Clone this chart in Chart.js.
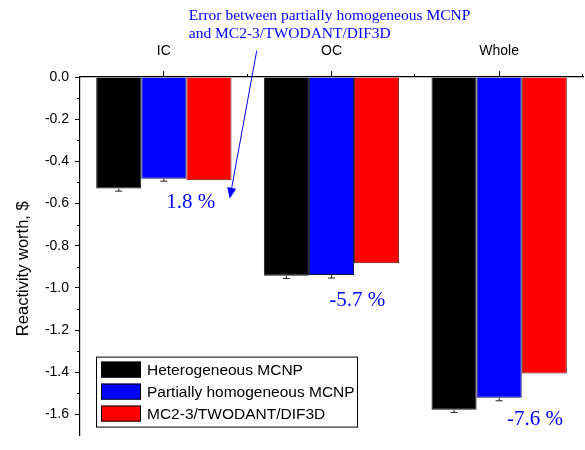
<!DOCTYPE html>
<html>
<head>
<meta charset="utf-8">
<script src="https://cdn.jsdelivr.net/npm/chart.js@4.4.1/dist/chart.umd.min.js"></script>
<style>
  html, body { margin: 0; padding: 0; background: #fff; }
  #wrap { width: 585px; height: 450px; }
</style>
</head>
<body>
<div id="wrap"><canvas id="chart" width="585" height="450"></canvas></div>
<script>
// chart values
const CATEGORIES = ['IC', 'OC', 'Whole'];
const SERIES_NAMES = ['Heterogeneous MCNP', 'Partially homogeneous MCNP', 'MC2-3/TWODANT/DIF3D'];
const HETEROGENEOUS = [-0.529, -0.942, -1.578];
const PARTIAL_HOMOGENEOUS = [-0.482, -0.939, -1.521];
const DETERMINISTIC = [-0.489, -0.883, -1.406];
const HETEROGENEOUS_ERR = [0.012, 0.013, 0.012];
const PARTIAL_HOMOGENEOUS_ERR = [0.012, 0.014, 0.014];
const Y_TICKS = [0.0, -0.2, -0.4, -0.6, -0.8, -1.0, -1.2, -1.4, -1.6];
const Y_MINOR_TICKS = [-0.1, -0.3, -0.5, -0.7, -0.9, -1.1, -1.3, -1.5];
const Y_TITLE = 'Reactivity worth, $';
const Y_TITLE_CENTER = -0.909;

// error annotations, placed in (category, value) units
const ERROR_TEXTS = ['1.8 %', '-5.7 %', '-7.6 %'];
const ERROR_TEXT_X = [0.16, 1.154, 2.213];
const ERROR_TEXT_Y = [-0.621, -1.086, -1.649];
const NOTE_LINES = ['Error between partially homogeneous MCNP', 'and MC2-3/TWODANT/DIF3D'];
const NOTE_X = 0.149;
const NOTE_Y = [0.272, 0.183];
const ARROW_FROM = [0.554, 0.125];
const ARROW_TO = [0.393, -0.577];

const SANS = 'Liberation Sans';
const SERIF = 'Liberation Serif';
const NOTE_BLUE = '#0000ff';

function drawErrorBars(chart) {
  const ctx = chart.ctx;
  const yScale = chart.scales.y;
  chart.data.datasets.forEach((ds, d) => {
    if(!ds.errors) return;
    const meta = chart.getDatasetMeta(d);
    meta.data.forEach((bar, i) => {
      const y0 = yScale.getPixelForValue(ds.data[i]);
      const y1 = yScale.getPixelForValue(ds.data[i] - ds.errors[i]);
      ctx.beginPath();
      ctx.moveTo(bar.x, y0);
      ctx.lineTo(bar.x, y1);
      ctx.moveTo(bar.x - 3.5, y1);
      ctx.lineTo(bar.x + 3.5, y1);
      ctx.stroke();
    });
  });
}

function drawMinorTicks(chart) {
  const ctx = chart.ctx;
  const xScale = chart.scales.x;
  const yScale = chart.scales.y;
  const area = chart.chartArea;
  ctx.beginPath();
  for(let v of Y_MINOR_TICKS) {
    const y = Math.round(yScale.getPixelForValue(v)) + 0.5;
    ctx.moveTo(area.left - 3, y);
    ctx.lineTo(area.left, y);
  }
  // boundaries between the groups on the top axis
  for(let i=0; i<CATEGORIES.length; ++i) {
    const x = Math.round(xScale.getPixelForValue(i + 0.5)) - 0.5;
    ctx.moveTo(x, area.top);
    ctx.lineTo(x, area.top - 3);
  }
  ctx.stroke();
}

function drawYTitle(chart) {
  const ctx = chart.ctx;
  const y = chart.scales.y.getPixelForValue(Y_TITLE_CENTER);
  ctx.save();
  ctx.translate(23, y);
  ctx.rotate(-Math.PI / 2);
  ctx.font = `16.5px "${SANS}"`;
  ctx.fillStyle = '#000';
  ctx.textAlign = 'center';
  ctx.textBaseline = 'middle';
  ctx.fillText(Y_TITLE, 0, 0);
  ctx.restore();
}

function drawLegendBox(chart) {
  const ctx = chart.ctx;
  const area = chart.chartArea;
  const left = area.left + 16;
  const top = area.bottom - 79;
  ctx.strokeRect(left + 0.5, top + 0.5, 261, 70);
  ctx.font = `15.5px "${SANS}"`;
  ctx.textBaseline = 'middle';
  ctx.textAlign = 'left';
  chart.data.datasets.forEach((ds, i) => {
    const rowY = top + 5 + i * 22;
    ctx.fillStyle = ds.backgroundColor;
    ctx.fillRect(left + 5, rowY, 40, 16);
    ctx.strokeRect(left + 5.5, rowY + 0.5, 39, 15);
    ctx.fillStyle = '#000';
    ctx.fillText(ds.label, left + 51, rowY + 9);
  });
}

function drawNotes(chart) {
  const ctx = chart.ctx;
  const xScale = chart.scales.x;
  const yScale = chart.scales.y;
  ctx.fillStyle = NOTE_BLUE;
  ctx.strokeStyle = NOTE_BLUE;
  ctx.textBaseline = 'alphabetic';

  ctx.font = `21px "${SERIF}"`;
  ctx.textAlign = 'center';
  for(let i=0; i<ERROR_TEXTS.length; ++i)
    ctx.fillText(ERROR_TEXTS[i], xScale.getPixelForValue(ERROR_TEXT_X[i]), yScale.getPixelForValue(ERROR_TEXT_Y[i]));

  ctx.font = `15.5px "${SERIF}"`;
  ctx.textAlign = 'left';
  for(let i=0; i<NOTE_LINES.length; ++i)
    ctx.fillText(NOTE_LINES[i], xScale.getPixelForValue(NOTE_X), yScale.getPixelForValue(NOTE_Y[i]));

  // arrow
  const x0 = xScale.getPixelForValue(ARROW_FROM[0]);
  const y0 = yScale.getPixelForValue(ARROW_FROM[1]);
  const x1 = xScale.getPixelForValue(ARROW_TO[0]);
  const y1 = yScale.getPixelForValue(ARROW_TO[1]);
  const ang = Math.atan2(y1 - y0, x1 - x0);
  const headLen = 11, headHalf = 4.5;
  const bx = x1 - headLen * Math.cos(ang), by = y1 - headLen * Math.sin(ang);
  ctx.lineWidth = 1;
  ctx.beginPath();
  ctx.moveTo(x0, y0);
  ctx.lineTo(bx, by);
  ctx.stroke();
  ctx.beginPath();
  ctx.moveTo(x1, y1);
  ctx.lineTo(bx + headHalf * Math.sin(ang), by - headHalf * Math.cos(ang));
  ctx.lineTo(bx - headHalf * Math.sin(ang), by + headHalf * Math.cos(ang));
  ctx.closePath();
  ctx.fill();
}

const extrasPlugin = {
  id: 'extras',
  afterDraw(chart) {
    const ctx = chart.ctx;
    ctx.save();
    ctx.strokeStyle = '#222';
    ctx.lineWidth = 1;
    drawErrorBars(chart);
    ctx.strokeStyle = '#000';
    drawMinorTicks(chart);
    drawYTitle(chart);
    drawLegendBox(chart);
    drawNotes(chart);
    ctx.restore();
  }
};

const canvas = document.getElementById('chart');
const chart = new Chart(canvas, {
  type: 'bar',
  data: {
    labels: CATEGORIES,
    datasets: [
      { label: SERIES_NAMES[0], data: HETEROGENEOUS, errors: HETEROGENEOUS_ERR,
        backgroundColor: '#000000', borderColor: '#1a1a1a' },
      { label: SERIES_NAMES[1], data: PARTIAL_HOMOGENEOUS, errors: PARTIAL_HOMOGENEOUS_ERR,
        backgroundColor: '#0000ff', borderColor: '#10104a' },
      { label: SERIES_NAMES[2], data: DETERMINISTIC, errors: null,
        backgroundColor: '#ff0000', borderColor: '#5a1010' }
    ]
  },
  options: {
    responsive: false,
    animation: false,
    layout: { padding: { left: 0, right: 2, top: 0, bottom: 2 } },
    datasets: {
      bar: { categoryPercentage: 0.807, barPercentage: 1.0, borderWidth: 1 }
    },
    plugins: {
      legend: { display: false },
      tooltip: { enabled: false }
    },
    scales: {
      x: {
        position: 'top',
        offset: true,
        grid: { offset: false, drawOnChartArea: false, tickLength: 6, color: '#000' },
        border: { color: '#000', width: 1.2 },
        ticks: { color: '#000', font: { family: SANS, size: 14 }, padding: 11, maxRotation: 0 },
        afterFit(scale) { scale.height = 77; }
      },
      y: {
        min: -1.7,
        max: 0,
        afterBuildTicks(scale) { scale.ticks = Y_TICKS.map(v => ({ value: v })); },
        grid: { drawOnChartArea: false, tickLength: 5, color: '#000' },
        border: { color: '#000', width: 1.2 },
        ticks: { color: '#000', font: { family: SANS, size: 14 }, padding: 6,
                 callback: v => v.toFixed(1) },
        afterFit(scale) { scale.width = 80; }
      }
    }
  },
  plugins: [extrasPlugin]
});
</script>
</body>
</html>
